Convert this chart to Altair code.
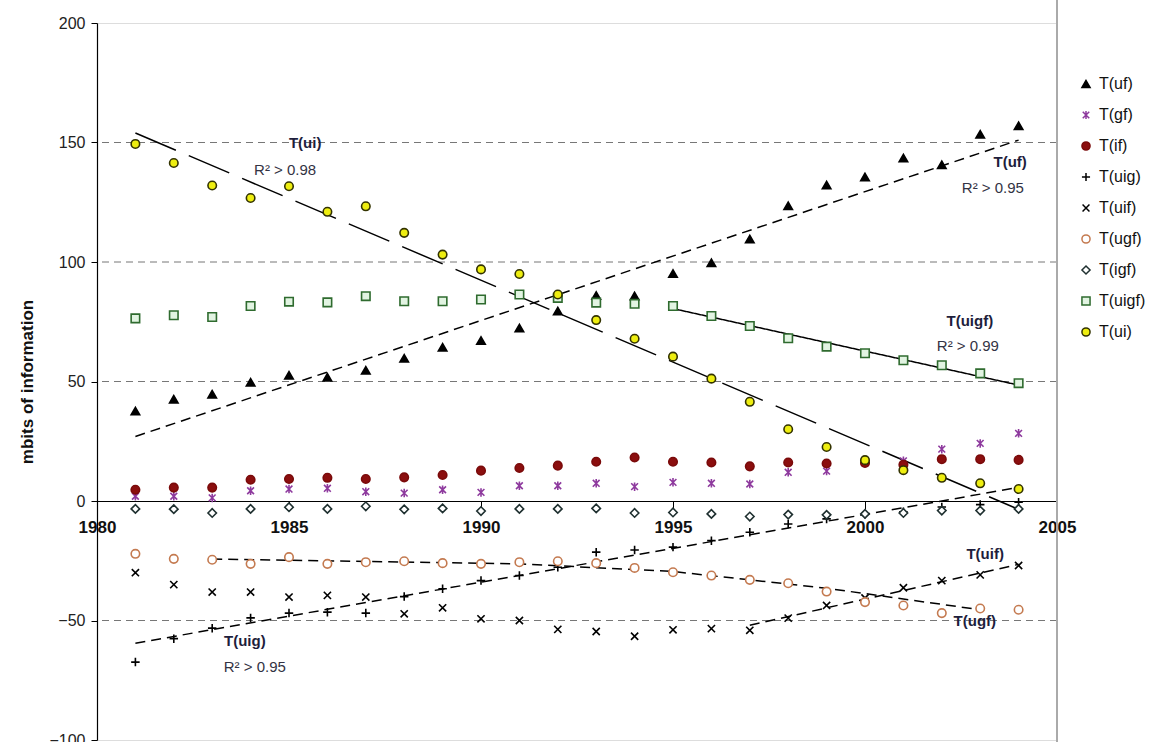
import altair as alt
import pandas as pd

years = list(range(1981, 2005))

T_uf = [37.6, 42.6, 44.7, 49.7, 52.6, 51.8, 54.7, 59.7, 64.3, 67.1, 72.4, 79.5,
        86.0, 85.8, 95.2, 99.7, 109.6, 123.5, 132.2, 135.6, 143.5, 140.7, 153.4, 157.0]
T_gf = [2.0, 2.0, 1.3, 4.3, 5.0, 5.3, 3.9, 3.3, 4.7, 3.6, 6.4, 6.4,
        7.4, 6.0, 7.8, 7.4, 7.1, 12.0, 12.5, 16.0, 16.8, 21.7, 24.1, 28.3]
T_if = [4.7, 5.6, 5.6, 8.9, 9.2, 9.7, 9.2, 9.9, 10.9, 12.7, 13.8, 14.8,
        16.4, 18.2, 16.4, 16.1, 14.5, 16.1, 15.7, 15.9, 15.2, 17.5, 17.5, 17.2]
T_uig = [-67.4, -57.6, -53.2, -48.9, -46.9, -46.5, -46.9, -40.0, -36.7, -33.3, -31.2, -27.7,
         -21.4, -20.5, -19.3, -16.6, -13.1, -9.6, -7.5, -5.5, -4.5, -2.5, -1.5, -0.5]
T_uif = [-30.0, -35.0, -38.1, -38.1, -40.2, -39.5, -40.2, -47.2, -44.7, -49.3, -50.0, -53.7,
         -54.6, -56.6, -53.9, -53.4, -54.1, -49.0, -43.7, -40.6, -36.3, -33.3, -30.9, -27.0]
T_ugf = [-22.1, -24.2, -24.6, -26.3, -23.5, -26.3, -25.6, -25.2, -26.0, -26.3, -25.6, -25.2,
         -26.0, -28.0, -29.8, -31.2, -33.0, -34.4, -37.9, -42.3, -43.7, -46.9, -45.0, -45.5]
T_igf = [-3.3, -3.4, -5.0, -3.3, -2.6, -3.3, -2.2, -3.5, -3.1, -4.2, -3.3, -3.3,
         -3.1, -5.0, -4.8, -5.4, -6.5, -5.7, -5.8, -5.4, -5.0, -4.0, -4.0, -3.3]
T_uigf = [76.4, 77.7, 77.0, 81.6, 83.4, 83.1, 85.7, 83.6, 83.6, 84.3, 86.4, 85.0,
          83.0, 82.5, 81.6, 77.4, 73.2, 68.1, 64.6, 61.8, 58.9, 56.8, 53.4, 49.3]
T_ui = [149.4, 141.4, 132.0, 126.8, 131.7, 121.0, 123.3, 112.2, 103.1, 96.9, 95.0, 86.4,
        75.7, 67.9, 60.4, 51.2, 41.5, 30.0, 22.6, 17.1, 12.9, 9.7, 7.4, 5.0]

series_names = ["T(uf)", "T(gf)", "T(if)", "T(uig)", "T(uif)", "T(ugf)", "T(igf)", "T(uigf)", "T(ui)"]
series_values = [T_uf, T_gf, T_if, T_uig, T_uif, T_ugf, T_igf, T_uigf, T_ui]

# regression / trend lines
fit_names = ["uf", "uf", "ui", "ui", "uigf", "uigf", "uig", "uig", "uif", "uif",
             "ugf", "ugf", "ugf", "ugf", "ugf", "ugf"]
fit_x = [1981, 2004, 1981, 2004, 1995, 2004, 1981, 2004, 1997, 2004,
         1983, 1987, 1991, 1995, 1999, 2003]
fit_y = [27.0, 151.0, 154.0, -3.5, 80.5, 48.5, -59.5, 5.7, -52.0, -26.5,
         -24.3, -25.3, -26.3, -29.5, -36.5, -45.5]

grid_values = [-50, 50, 100, 150]

# annotations
ann_bold_text = ["T(ui)", "T(uf)", "T(uigf)", "T(uig)", "T(uif)", "T(ugf)"]
ann_bold_x = [1985.42, 2003.78, 2002.73, 1983.85, 2003.13, 2002.86]
ann_bold_y = [149.9, 142.0, 75.2, -58.5, -22.1, -50.1]
ann_r2_text = ["R² > 0.98", "R² > 0.95", "R² > 0.99", "R² > 0.95"]
ann_r2_x = [1984.9, 2003.33, 2002.68, 1984.11]
ann_r2_y = [138.6, 131.1, 64.7, -69.3]

rows = []
for name, vals in zip(series_names, series_values):
    for yr, v in zip(years, vals):
        rows.append({"year": yr, "value": v, "series": name})
pts = pd.DataFrame(rows)
fits = pd.DataFrame({"fit": fit_names, "year": fit_x, "value": fit_y})
grid = pd.DataFrame({"value": grid_values})
ann_b = pd.DataFrame({"text": ann_bold_text, "year": ann_bold_x, "value": ann_bold_y})
ann_r = pd.DataFrame({"text": ann_r2_text, "year": ann_r2_x, "value": ann_r2_y})

W, H = 960, 717
FONT = "Liberation Sans"

xscale = alt.Scale(domain=[1980, 2005], nice=False, zero=False)
yscale = alt.Scale(domain=[-100, 200], nice=False)

PLUS = "M-1,0L1,0M0,-1L0,1"
XMARK = "M-0.85,-0.85L0.85,0.85M0.85,-0.85L-0.85,0.85"
STAR = "M-0.8,-0.8L0.8,0.8M0.8,-0.8L-0.8,0.8M0,-1L0,1"

shapes = ["triangle-up", STAR, "circle", PLUS, XMARK, "circle", "diamond", "square", "circle"]
strokes = ["#000000", "#8E3A9E", "#7A0A0A", "#000000", "#000000", "#C47A50", "#1F3030", "#2F6B2F", "#333300"]
fills = ["#000000", "transparent", "#8B0E0E", "transparent", "transparent", "#FFFFFF", "#FFFFFF", "#E2F4E2", "#EEEE10"]

legend = alt.Legend(
    title=None, orient="none", legendX=981, legendY=53,
    labelFont=FONT, labelFontSize=16, labelColor="#111111",
    symbolSize=66, symbolStrokeWidth=1.5, rowPadding=15, labelOffset=5,
    padding=0,
)

x_axis = alt.Axis(values=[1980, 1985, 1990, 1995, 2000, 2005], format="d", title=None,
                  offset=-239, labelFont=FONT, labelFontSize=17, labelFontWeight="bold",
                  labelColor="#111111", labelPadding=10, tickSize=8, tickColor="#000000",
                  domainColor="#000000", domainWidth=1.2, grid=False, labelFlush=False)
y_axis = alt.Axis(values=[-100, -50, 0, 50, 100, 150, 200], title="mbits of information",
                  labelFont=FONT, labelFontSize=16, labelColor="#222222", labelPadding=6,
                  tickSize=6, tickColor="#000000", domainColor="#000000", domainWidth=1.2,
                  grid=False, titleFont=FONT, titleFontSize=17, titleFontWeight="bold",
                  titleColor="#111111", titlePadding=12)

gridlayer = alt.Chart(grid).mark_rule(color="#777777", strokeDash=[7, 5], strokeWidth=1).encode(
    y=alt.Y("value:Q", scale=yscale, axis=y_axis)
)

border = alt.Chart(grid).mark_rule(color="#AAAAAA", strokeWidth=2).encode(
    x=alt.value(W), y=alt.value(-23), y2=alt.value(H + 2)
)

lines = alt.Chart(fits).mark_line(color="#000000", strokeWidth=1.5).encode(
    x=alt.X("year:Q", scale=xscale, axis=x_axis),
    y=alt.Y("value:Q", scale=yscale),
    detail="fit:N",
    strokeDash=alt.StrokeDash("fit:N", legend=None, scale=alt.Scale(
        domain=["uf", "ui", "uigf", "uig", "uif", "ugf"],
        range=[[10, 6], [44, 14], [1, 0], [10, 6], [10, 6], [10, 6]])),
)

points = alt.Chart(pts).mark_point(filled=True, opacity=1, size=72, strokeWidth=1.6).encode(
    x=alt.X("year:Q", scale=xscale),
    y=alt.Y("value:Q", scale=yscale),
    shape=alt.Shape("series:N", scale=alt.Scale(domain=series_names, range=shapes), legend=legend),
    stroke=alt.Stroke("series:N", scale=alt.Scale(domain=series_names, range=strokes), legend=legend),
    fill=alt.Fill("series:N", scale=alt.Scale(domain=series_names, range=fills), legend=legend),
)

text_b = alt.Chart(ann_b).mark_text(font=FONT, fontSize=15, fontWeight="bold", color="#1E1E3C",
                                    align="center", baseline="middle").encode(
    x=alt.X("year:Q", scale=xscale), y=alt.Y("value:Q", scale=yscale), text="text:N")
text_r = alt.Chart(ann_r).mark_text(font=FONT, fontSize=15, color="#333344",
                                    align="center", baseline="middle").encode(
    x=alt.X("year:Q", scale=xscale), y=alt.Y("value:Q", scale=yscale), text="text:N")

chart = alt.layer(gridlayer, border, lines, points, text_b, text_r).properties(
    width=W, height=H,
    autosize=alt.AutoSizeParams(type="none"),
    padding={"left": 97, "top": 23, "right": 112, "bottom": 2},
).configure_view(stroke=None).configure(background="white")

chart.save("out.html", embed_options={"renderer": "svg", "actions": False})
